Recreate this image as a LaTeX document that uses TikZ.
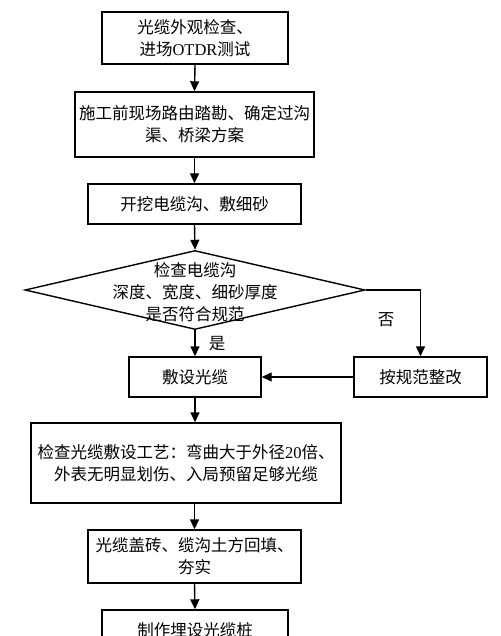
\documentclass[tikz,border=0pt]{standalone}
\usepackage{fontspec}
\setmainfont{Noto Sans CJK SC}
\newfontfamily\lat{Liberation Serif}
\usetikzlibrary{shapes.geometric,arrows.meta}
\begin{document}
\begin{tikzpicture}[x=1pt,y=-1pt,
  every node/.style={font=\fontsize{16.5}{22}\selectfont, inner sep=1pt, align=center},
  stepbox/.style={draw, line width=1.4pt, rectangle},
  arr/.style={line width=1.4pt, -{Triangle[length=10pt,width=9pt]}},
  lbl/.style={font=\fontsize{16.5}{22}\selectfont}]
\clip (0,0) rectangle (500,636);
\fill[white] (0,0) rectangle (500,636);
\node[stepbox, minimum width=186pt, minimum height=52pt] (b1) at (195,38) {光缆外观检查、\\进场{\lat OTDR}测试};
\node[stepbox, minimum width=239pt, minimum height=65pt] (b2) at (194.5,124.5) {施工前现场路由踏勘、确定过沟\\渠、桥梁方案};
\node[stepbox, minimum width=213pt, minimum height=40pt] (b3) at (194.5,204) {开挖电缆沟、敷细砂};
\node[draw, line width=1.4pt, diamond, inner sep=0pt, minimum width=340pt, minimum height=79pt] (d) at (195,290) {};
\node (dt) at (195,292) {检查电缆沟\\深度、宽度、细砂厚度\\是否符合规范};
\node[stepbox, minimum width=132pt, minimum height=40pt] (b4) at (195,377) {敷设光缆};
\node[stepbox, minimum width=133pt, minimum height=40pt] (b5) at (420.5,377) {按规范整改};
\node[stepbox, minimum width=310pt, minimum height=80pt] (b6) at (186,463) {检查光缆敷设工艺：弯曲大于外径{\lat 20}倍、\\外表无明显划伤、入局预留足够光缆};
\node[stepbox, minimum width=213pt, minimum height=53pt] (b7) at (194.5,556.5) {光缆盖砖、缆沟土方回填、\\夯实};
\node[stepbox, minimum width=186pt, minimum height=40pt] (b8) at (195,630) {制作埋设光缆桩};
\node[lbl] (yes) at (217,344) {是};
\node[lbl] (no) at (386,320) {否};
\draw[arr] (b1.south) -- (b2.north);
\draw[arr] (b2.south) -- (b3.north);
\draw[arr] (b3.south) -- (d.north);
\draw[arr] (d.south) -- (b4.north);
\draw[arr] (d.east) -| (b5.north);
\draw[arr] (b5.west) -- (b4.east);
\draw[arr] (b4.south) -- (b4.south |- b6.north);
\draw[arr] (b6.south -| b7.north) -- (b7.north);
\draw[arr] (b7.south) -- (b8.north);
\end{tikzpicture}
\end{document}
